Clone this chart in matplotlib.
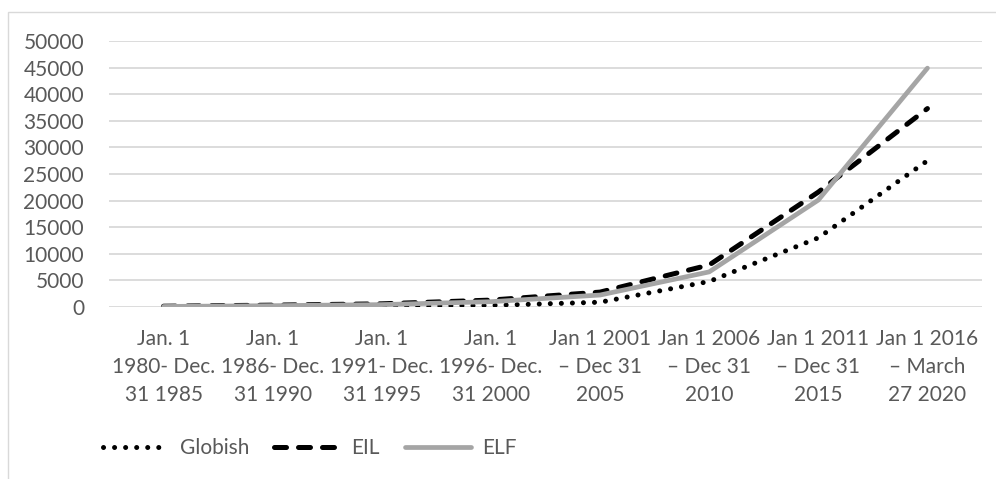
import matplotlib
matplotlib.use("Agg")
from matplotlib import pyplot as plt
from matplotlib.patches import Rectangle

plt.rcParams['font.family'] = ['Lato', 'DejaVu Sans']

periods = ["Jan. 1\n1980- Dec.\n31 1985", "Jan. 1\n1986- Dec.\n31 1990",
           "Jan. 1\n1991- Dec.\n31 1995", "Jan. 1\n1996- Dec.\n31 2000",
           "Jan 1 2001\n\u2013 Dec 31\n2005", "Jan 1 2006\n\u2013 Dec 31\n2010",
           "Jan 1 2011\n\u2013 Dec 31\n2015", "Jan 1 2016\n\u2013 March\n27 2020"]
globish = [50, 60, 100, 300, 900, 4800, 13000, 27500]
eil = [150, 350, 600, 1300, 2800, 7900, 21600, 37300]
elf = [100, 250, 450, 1000, 2250, 6600, 20100, 44900]

fig = plt.figure(figsize=(9.96, 4.79), dpi=100)
ax = fig.add_axes([109/996, 1-307/479, 873/996, 266/479])

x = list(range(len(periods)))
ax.plot(x, globish, color='black', linewidth=3.6, linestyle=(0, (0.01, 2.2)),
        dash_capstyle='round', label='Globish')
ax.plot(x, eil, color='black', linewidth=3.6, linestyle=(0, (2.4, 2.4)),
        dash_capstyle='round', label='EIL')
ax.plot(x, elf, color='#a5a5a5', linewidth=3.4, solid_capstyle='round', label='ELF')

ax.set_xlim(-0.5, len(periods) - 0.5)
ax.set_ylim(0, 50000)
ax.set_yticks(range(0, 50001, 5000))
ax.set_xticks(x)
ax.set_xticklabels(periods, linespacing=1.5)
ax.tick_params(axis='both', length=0, labelsize=15, colors='#595959')
ax.tick_params(axis='x', pad=16)
ax.tick_params(axis='y', pad=18)
ax.grid(axis='y', color='#d9d9d9', linewidth=1.3)
ax.set_axisbelow(True)
for s in ax.spines.values():
    s.set_visible(False)

fig.legend(loc='center left', bbox_to_anchor=(84/996, 1-448/479), ncol=3, frameon=False,
           fontsize=15, handlelength=3.2, columnspacing=1.2, handletextpad=0.5,
           labelcolor='#595959')

fig.patches.append(Rectangle((8/996, -0.1), 1.2, 1-12/479+0.1, transform=fig.transFigure,
                             fill=False, edgecolor='#d9d9d9', linewidth=1))

fig.savefig('out.png', dpi=100)
